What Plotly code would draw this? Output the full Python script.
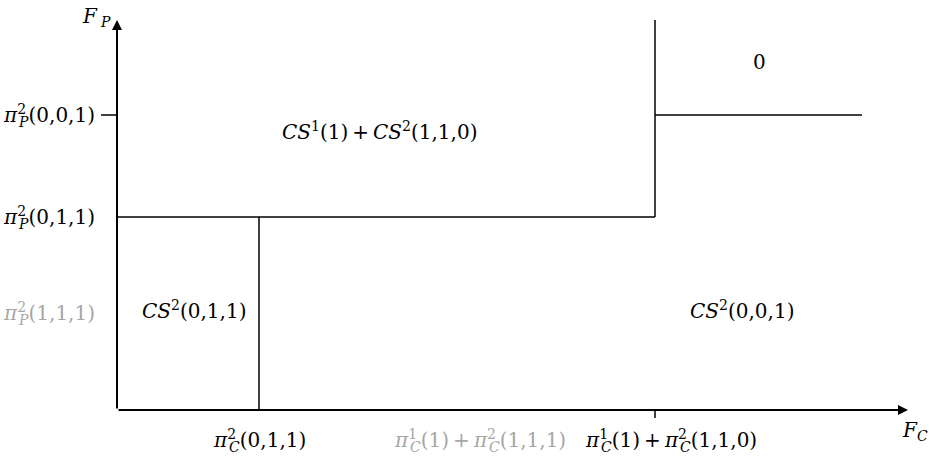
import plotly.graph_objects as go

# ---- data (abstract units, origin at the axes' crossing) ----
def pi_lbl(sup, sub):
    return ("<i>π</i><sup><span style='letter-spacing:-7px'>%s</span></sup>"
            "<sub><i>%s</i></sub>" % (sup, sub))

PLUS = "\u2009+\u2009"

x_ticks = [1.42, 3.65, 5.38]
x_tick_labels = [
    pi_lbl("2", "C") + "(0,1,1)",
    pi_lbl("1", "C") + "(1)" + PLUS + pi_lbl("2", "C") + "(1,1,1)",
    pi_lbl("1", "C") + "(1)" + PLUS + pi_lbl("2", "C") + "(1,1,0)",
]
x_tick_colors = ["#000000", "#a6a6a6", "#000000"]
x_label_x = [1.42, 3.63, 5.54]

y_ticks = [0.97, 1.93, 2.95]
y_tick_labels = [
    pi_lbl("2", "P") + "(1,1,1)",
    pi_lbl("2", "P") + "(0,1,1)",
    pi_lbl("2", "P") + "(0,0,1)",
]
y_tick_colors = ["#a6a6a6", "#000000", "#000000"]

x_axis_end = 7.88
y_axis_end = 3.90
upper_line_top = 3.90
upper_step_end = 7.45

region_labels = [
    "<i>CS</i><sup>1</sup>(1)" + PLUS + "<i>CS</i><sup>2</sup>(1,1,0)",
    "<i>CS</i><sup>2</sup>(0,1,1)",
    "<i>CS</i><sup>2</sup>(0,0,1)",
    "0",
]
region_x = [2.62, 0.77, 6.25, 6.42]
region_y = [2.79, 1.00, 1.00, 3.48]

FONT = "DejaVu Serif"
FS = 20

fig = go.Figure()

def seg(xs, ys, width=1.5):
    fig.add_trace(go.Scatter(x=xs, y=ys, mode="lines",
                             line=dict(color="#000000", width=width),
                             hoverinfo="skip", showlegend=False))

# region boundaries
seg([0, x_ticks[2]], [y_ticks[1], y_ticks[1]])
seg([x_ticks[0], x_ticks[0]], [0, y_ticks[1]])
seg([x_ticks[2], x_ticks[2]], [y_ticks[1], upper_line_top])
seg([x_ticks[2], upper_step_end], [y_ticks[2], y_ticks[2]])
# tick marks
seg([-0.16, 0], [y_ticks[2], y_ticks[2]])
seg([x_ticks[2], x_ticks[2]], [0, -0.08])

annotations = []
# axes with arrows
annotations.append(dict(x=x_axis_end + 0.03, y=0, ax=0, ay=0, xref="x", yref="y",
                        axref="x", ayref="y", showarrow=True, arrowhead=2,
                        arrowsize=1, arrowwidth=2, arrowcolor="#000000", text=""))
annotations.append(dict(x=0, y=y_axis_end, ax=0, ay=0, xref="x", yref="y",
                        axref="x", ayref="y", showarrow=True, arrowhead=2,
                        arrowsize=1, arrowwidth=2, arrowcolor="#000000", text=""))

for xv, t, c in zip(x_label_x, x_tick_labels, x_tick_colors):
    annotations.append(dict(x=xv, y=-0.30,
                            text=t, showarrow=False, xanchor="center",
                            yanchor="middle", font=dict(family=FONT, size=FS, color=c)))
for yv, t, c in zip(y_ticks, y_tick_labels, y_tick_colors):
    annotations.append(dict(x=-0.20, y=yv, text=t, showarrow=False,
                            xanchor="right", yanchor="middle",
                            font=dict(family=FONT, size=FS, color=c)))
for t, xv, yv in zip(region_labels, region_x, region_y):
    annotations.append(dict(x=xv, y=yv, text=t, showarrow=False,
                            xanchor="center", yanchor="middle",
                            font=dict(family=FONT, size=FS, color="#000000")))

annotations.append(dict(x=-0.21, y=3.93, text="<i>F</i>\u2009<sub><i>P</i></sub>",
                        showarrow=False, xanchor="center", yanchor="middle",
                        font=dict(family=FONT, size=FS, color="#000000")))
annotations.append(dict(x=7.98, y=-0.21, text="<i>F</i><sub><i>C</i></sub>",
                        showarrow=False, xanchor="center", yanchor="middle",
                        font=dict(family=FONT, size=FS, color="#000000")))

fig.update_layout(
    width=929, height=458,
    margin=dict(l=0, r=0, t=0, b=0),
    paper_bgcolor="white", plot_bgcolor="white",
    xaxis=dict(range=[-1.17, 8.12], visible=False, fixedrange=True),
    yaxis=dict(range=[-0.48, 4.10], visible=False, fixedrange=True),
    annotations=annotations,
    showlegend=False,
)

fig.write_html("out.html", config={"displayModeBar": False},
               post_script="document.body.style.margin='0';document.body.style.overflow='hidden';")
